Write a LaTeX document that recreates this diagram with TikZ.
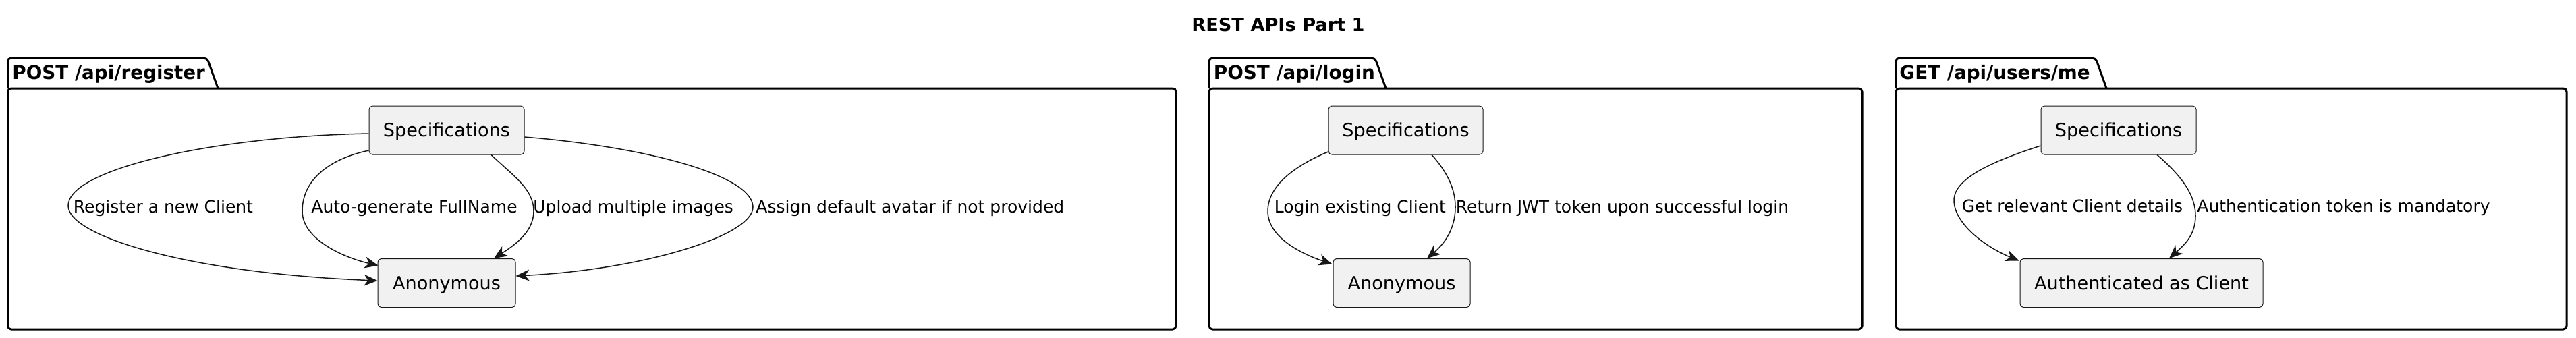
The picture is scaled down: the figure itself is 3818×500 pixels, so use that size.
\documentclass[tikz,border=0pt]{standalone}
\usepackage{fontspec}
\setmainfont{DejaVu Sans}
\usetikzlibrary{arrows.meta,calc}
\definecolor{nodefill}{HTML}{F1F1F1}
\definecolor{ink}{HTML}{181818}
\begin{document}
\begin{tikzpicture}[x=0.5pt,y=-0.5pt,
  box/.style={draw=ink, line width=0.5pt, fill=nodefill, rounded corners=2.5pt, inner sep=0pt,
    font=\fontsize{13.55pt}{16pt}\selectfont, text height=9.9pt, text depth=0pt, minimum height=36pt},
  edge/.style={draw=ink, line width=0.75pt, -{Stealth[length=10pt,width=8.5pt,inset=3pt]}},
  lbl/.style={anchor=base west, inner sep=0pt, font=\fontsize{12.5pt}{15pt}\selectfont, text=black},
  pkg/.style={draw=black, line width=1.5pt, rounded corners=2.5pt},
  pkglbl/.style={anchor=base west, inner sep=0pt, font=\fontsize{13.9pt}{16pt}\selectfont\bfseries},
]
\useasboundingbox (0,0) rectangle (3818,500);

% title
\node[anchor=base, inner sep=0pt, font=\fontsize{13.6pt}{16pt}\selectfont\bfseries] (title) at (1894.5,46) {REST APIs Part 1};

% packages
\draw[pkg] (11.5,131) -- (11.5,86) -- (307,86) -- (323,131);
\draw[pkg] (11.5,131) rectangle (1743,488);
\node[pkglbl] (p1) at (18,117) {POST /api/register};

\draw[pkg] (1792,131) -- (1792,86) -- (2038,86) -- (2054,131);
\draw[pkg] (1792,131) rectangle (2760,488);
\node[pkglbl] (p2) at (1798.5,117) {POST /api/login};

\draw[pkg] (2810,131) -- (2810,86) -- (3106,86) -- (3122,131);
\draw[pkg] (2810,131) rectangle (3804,488);
\node[pkglbl] (p3) at (2815,117) {GET /api/users/me};

% nodes
\node[box, minimum width=115pt] (s1) at (662,193) {Specifications};
\node[box, minimum width=102pt] (a1) at (662,419.5) {Anonymous};
\node[box, minimum width=114.5pt] (s2) at (2083.5,193) {Specifications};
\node[box, minimum width=101.5pt] (a2) at (2077.5,419.5) {Anonymous};
\node[box, minimum width=115pt] (s3) at (3140,193) {Specifications};
\node[box, minimum width=180pt] (a3) at (3174,419.5) {Authenticated as Client};

% edges package 1
\draw[edge] ($(s1.west)+(0,5)$) .. controls (320,202) and (101,250) .. (101,305)
  .. controls (101,350) and (280,405) .. ($(a1.west)+(0,-3.5)$);
\draw[edge] ($(s1.west)+(0,30)$) .. controls (490,235) and (448,265) .. (448,313)
  .. controls (448,355) and (510,382) .. ($(a1.north west)+(1,10.5)$);
\draw[edge] ($(s1.south)+(66,0)$) .. controls (760,260) and (791,280) .. (791,313)
  .. controls (791,345) and (760,365) .. ($(a1.north)+(70,0)$);
\draw[edge] ($(s1.east)+(0,10)$) .. controls (960,218) and (1116,260) .. (1116,307)
  .. controls (1116,350) and (950,400) .. ($(a1.east)+(0,-10.5)$);

\node[lbl] (l1) at (108.5,315) {Register a new Client};
\node[lbl] (l2) at (461,315) {Auto-generate FullName};
\node[lbl] (l3) at (790,315) {Upload multiple images};
\node[lbl] (l4) at (1120,315) {Assign default avatar if not provided};

% edges package 2
\draw[edge] ($(s2.west)+(0,32)$) .. controls (1920,245) and (1879,275) .. (1879,313)
  .. controls (1879,350) and (1925,375) .. ($(a2.north west)+(-1,8.5)$);
\draw[edge] ($(s2.south)+(38.5,0)$) .. controls (2145,255) and (2157,280) .. (2157,307)
  .. controls (2157,340) and (2140,362) .. ($(a2.north)+(37.5,0)$);

\node[lbl] (l5) at (1888.5,315) {Login existing Client};
\node[lbl] (l6) at (2157.5,315) {Return JWT token upon successful login};

% edges package 3
\draw[edge] ($(s3.west)+(0,23)$) .. controls (2950,240) and (2896,265) .. (2896,297)
  .. controls (2896,330) and (2940,365) .. ($(a3.north west)+(-1,3.5)$);
\draw[edge] ($(s3.south)+(57,0)$) .. controls (3235,262) and (3254,290) .. (3254,320)
  .. controls (3254,350) and (3235,365) .. ($(a3.north)+(41,0)$);

\node[lbl] (l7) at (2907.5,314) {Get relevant Client details};
\node[lbl] (l8) at (3256,314) {Authentication token is mandatory};

\end{tikzpicture}
\end{document}
